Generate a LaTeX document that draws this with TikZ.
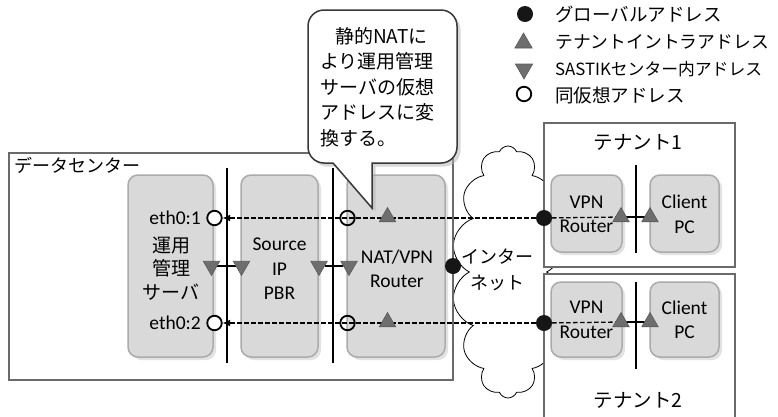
\documentclass[tikz,border=0pt]{standalone}
\usepackage{fontspec}
\setmainfont{Carlito}
\newfontfamily\jpfont{Noto Sans CJK JP}
\usetikzlibrary{shapes.geometric,shapes.symbols,shadows,arrows.meta}

\definecolor{boxfill}{HTML}{D9D9D9}
\definecolor{boxedge}{HTML}{ABABAB}
\definecolor{framegray}{HTML}{6A6A6A}
\definecolor{markcol}{HTML}{6E6E6E}
\definecolor{markedge}{HTML}{5A5A5A}
\definecolor{dotcol}{HTML}{161616}

\pgfdeclarelayer{bg}
\pgfdeclarelayer{wires}
\pgfsetlayers{bg,wires,main}

\tikzset{
  frame/.style={draw=framegray, line width=1.9pt, fill=white, inner sep=0pt},
  unit/.style={draw=boxedge, fill=boxfill, line width=1.5pt, rounded corners=10pt,
    inner sep=0pt, drop shadow={shadow xshift=3pt, shadow yshift=-3pt, fill=black!22}},
  bus/.style={line width=2pt, black},
  link/.style={line width=2.2pt, black},
  tunnel/.style={line width=1.3pt, black, dash pattern=on 4.5pt off 2.5pt},
  gdot/.style={circle, fill=dotcol, inner sep=0pt, minimum size=16pt},
  vaddr/.style={circle, draw=black, line width=1.8pt, inner sep=0pt, minimum size=14.5pt},
  tri/.style={regular polygon, regular polygon sides=3, fill=markcol, draw=markedge,
    line width=0.6pt, inner sep=0pt, minimum size=19pt},
  uptri/.style={tri},
  dntri/.style={tri, shape border rotate=180},
  lat/.style={font=\fontsize{19.5}{24.5}\selectfont, align=center, inner sep=0pt},
  jpl/.style={font=\jpfont\fontsize{19}{23.5}\selectfont, align=center, inner sep=0pt},
  legend/.style={font=\jpfont\fontsize{18.5}{21}\selectfont, anchor=west, inner sep=0pt},
  note/.style={font=\jpfont\fontsize{19}{23}\selectfont, anchor=west, inner sep=0pt},
  callout/.style={draw=black!78, fill=white, line width=1.5pt,
    drop shadow={shadow xshift=3.5pt, shadow yshift=-3.5pt, fill=black!30}},
}

\begin{document}
\begin{tikzpicture}[x=1pt, y=-1pt]
\useasboundingbox (0,0) rectangle (778,416);
\clip (0,0) rectangle (778,416);

% ---------- containers, cloud and devices ----------
\begin{pgfonlayer}{bg}
  \node[cloud, cloud puffs=14, cloud puff arc=135, cloud ignores aspect, draw=black, fill=white,
        line width=0.8pt, minimum width=112pt, minimum height=252pt] (net) at (508,272) {};
  \node[frame, minimum width=444pt, minimum height=227pt] (dc) at (231,266.5) {};
  \node[frame, minimum width=191pt, minimum height=144pt] (ten1) at (639.5,195) {};
  \node[frame, minimum width=191pt, minimum height=151pt] (ten2) at (639.5,349.5) {};

  \node[unit, minimum width=85pt, minimum height=182pt] (srv) at (170.5,266) {};
  \node[unit, minimum width=77pt, minimum height=182pt] (pbr) at (279.5,266) {};
  \node[unit, minimum width=98pt, minimum height=182pt] (nat) at (396,266) {};
  \node[unit, minimum width=71pt, minimum height=77pt] (vpn1) at (586.5,213.5) {};
  \node[unit, minimum width=69pt, minimum height=77pt] (pc1) at (684.5,213.5) {};
  \node[unit, minimum width=71pt, minimum height=75pt] (vpn2) at (586.5,319.5) {};
  \node[unit, minimum width=69pt, minimum height=75pt] (pc2) at (684.5,319.5) {};
\end{pgfonlayer}

% ---------- segment lines ----------
\coordinate (s1t) at (227,168);  \coordinate (s1b) at (227,363);
\coordinate (s2t) at (333,168);  \coordinate (s2b) at (333,363);
\coordinate (s3t) at (636,165);  \coordinate (s3b) at (636,253);
\coordinate (s4t) at (636,282);  \coordinate (s4b) at (636,369);

% ---------- address markers ----------
\node[vaddr, fill=white] (c1) at (214.5,218) {};
\node[vaddr, fill=white] (c2) at (214.5,323) {};
\node[vaddr] (n1) at (347.5,218) {};
\node[vaddr] (n2) at (347.5,323) {};
\node[uptri] (na1) at (387.5,217) {};
\node[uptri] (na2) at (387.5,322) {};

\node[dntri] (d1) at (211.5,266) {};
\node[dntri] (d2) at (241.5,266) {};
\node[dntri] (d3) at (319,266) {};
\node[dntri] (d4) at (349,266) {};

\node[gdot] (inet) at (453,266) {};
\node[gdot] (g1) at (544,218) {};
\node[gdot] (g2) at (544,323) {};

\node[uptri] (v1) at (621,217) {};
\node[uptri] (p1) at (650,217) {};
\node[uptri] (v2) at (621,322) {};
\node[uptri] (p2) at (650,322) {};

% ---------- wiring ----------
\begin{pgfonlayer}{wires}
  \draw[bus] (s1t) -- (s1b);
  \draw[bus] (s2t) -- (s2b);
  \draw[bus] (s3t) -- (s3b);
  \draw[bus] (s4t) -- (s4b);

  \draw[tunnel, -{Latex[length=7.5pt,width=7pt]}] (g1) -- (c1);
  \draw[tunnel, -{Latex[length=7.5pt,width=7pt]}] (g2) -- (c2);
  \draw[tunnel] (g1) -- (v1.center);
  \draw[tunnel] (g2) -- (v2.center);

  \draw[link] (v1.center) -- (p1.center);
  \draw[link] (v2.center) -- (p2.center);
  \draw[link] (d1) -- (d2);
  \draw[link] (d3) -- (d4);
\end{pgfonlayer}

% ---------- labels ----------
\node[jpl, font=\jpfont\fontsize{18}{22}\selectfont, anchor=west] (dclabel) at (14,165) {データセンター};
\node[jpl, font=\jpfont\fontsize{19.5}{22}\selectfont] (t1label) at (638,142) {テナント1};
\node[jpl, font=\jpfont\fontsize{19.5}{22}\selectfont] (t2label) at (638,400) {テナント2};

\node[lat, anchor=east] (e1) at (201,218) {eth0:1};
\node[lat, anchor=east] (e2) at (201,323) {eth0:2};
\node[jpl] (srvlabel) at (171,268.5) {運用\\管理\\サーバ};
\node[lat] (pbrlabel) at (279.5,269) {Source\\IP\\PBR};
\node[lat] (natlabel) at (397,269) {NAT/VPN\\Router};
\node[lat] (vpn1label) at (586.5,214.5) {VPN\\Router};
\node[lat] (pc1label) at (684.5,214.5) {Client\\PC};
\node[lat] (vpn2label) at (586.5,320) {VPN\\Router};
\node[lat] (pc2label) at (684.5,320) {Client\\PC};
\node[jpl, font=\jpfont\fontsize{18}{26}\selectfont] (netlabel) at (497,269.5) {インター\\ネット};

% ---------- speech balloon ----------
\draw[callout] (333,163) -- (324,163) arc (90:180:16) -- (308,26) arc (180:270:16)
  -- (441,10) arc (270:360:16) -- (457,147) arc (0:90:16)
  -- (372,163) -- (372,208) -- cycle;
\node[note] (m1) at (335,36) {静的NATに};
\node[note] (m2) at (320,61.5) {より運用管理};
\node[note] (m3) at (320,87) {サーバの仮想};
\node[note] (m4) at (320,112.5) {アドレスに変};
\node[note] (m5) at (320,138) {換する。};

% ---------- key ----------
\node[gdot] (k1) at (525,14) {};
\node[uptri, minimum size=20pt] (k2) at (523.5,43) {};
\node[dntri, minimum size=20pt] (k3) at (524,69) {};
\node[vaddr] (k4) at (524,94) {};
\node[legend] (k1t) at (555,14) {グローバルアドレス};
\node[legend, font=\jpfont\fontsize{17.8}{21}\selectfont] (k2t) at (555,42) {テナントイントラアドレス};
\node[legend, font=\jpfont\fontsize{16.8}{21}\selectfont] (k3t) at (555,69) {SASTIKセンター内アドレス};
\node[legend] (k4t) at (555,96) {同仮想アドレス};
\end{tikzpicture}
\end{document}
